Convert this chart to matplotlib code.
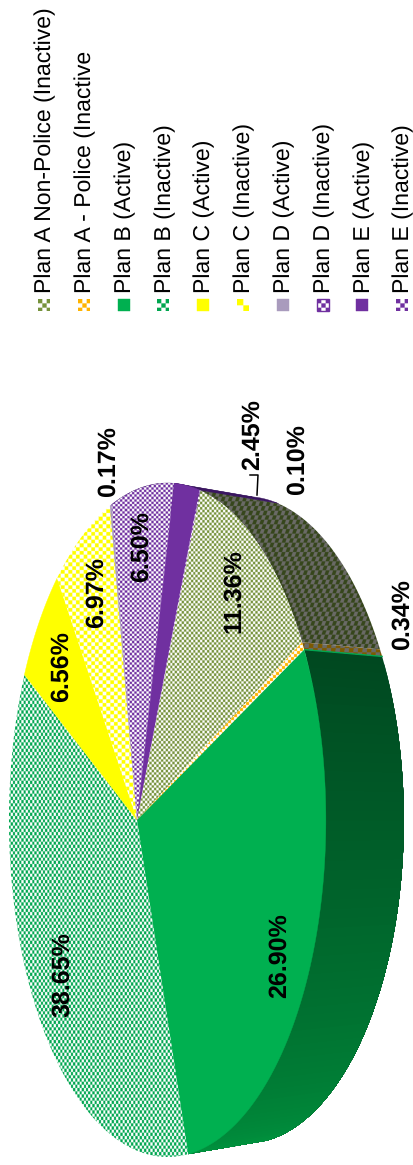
import numpy as np
import matplotlib
matplotlib.use('Agg')
import matplotlib.pyplot as plt
from matplotlib.patches import Polygon, Rectangle

plt.rcParams['font.family'] = ['Liberation Sans', 'DejaVu Sans']
plt.rcParams['text.hinting'] = 'no_hinting'
plt.rcParams['text.hinting_factor'] = 1

# ---- data (in drawing order, clockwise from the front seam) ----
categories = ['Plan B (Active)', 'Plan B (Inactive)', 'Plan C (Active)', 'Plan C (Inactive)',
              'Plan D (Active)', 'Plan D (Inactive)', 'Plan E (Active)', 'Plan E (Inactive)',
              'Plan A Non-Police (Inactive)', 'Plan A - Police (Inactive']
values = [26.90, 38.65, 6.56, 6.97, 0.17, 6.50, 2.45, 0.10, 11.36, 0.34]
value_labels = ['26.90%', '38.65%', '6.56%', '6.97%', '0.17%', '6.50%', '2.45%', '0.10%', '11.36%', '0.34%']
label_pos = [(279, 956), (63, 975), (61, 667), (96, 593), (108, 462),
             (141.5, 547), (252, 435), (297, 460), (234, 591), (402.5, 615)]
legend_order = ['Plan A Non-Police (Inactive)', 'Plan A - Police (Inactive', 'Plan B (Active)',
                'Plan B (Inactive)', 'Plan C (Active)', 'Plan C (Inactive)', 'Plan D (Active)',
                'Plan D (Inactive)', 'Plan E (Active)', 'Plan E (Inactive)']

# face style: colour, second colour (None = solid), cell w, cell h
styles = {
    'Plan A Non-Police (Inactive)': ('#76923C', '#FFFFFF', 2.3, 2.6),
    'Plan A - Police (Inactive':    ('#FFB400', '#FFFFFF', 3.0, 3.0),
    'Plan B (Active)':              ('#00B050', None, 0, 0),
    'Plan B (Inactive)':            ('#00A650', '#FFFFFF', 2.15, 3.2),
    'Plan C (Active)':              ('#FFFF00', None, 0, 0),
    'Plan C (Inactive)':            ('#FFFF00', '#FFFFFF', 3.8, 3.8),
    'Plan D (Active)':              ('#A99BBD', None, 0, 0),
    'Plan D (Inactive)':            ('#7030A0', '#FFFFFF', 2.4, 2.4),
    'Plan E (Active)':              ('#7030A0', None, 0, 0),
    'Plan E (Inactive)':            ('#7030A0', '#FFFFFF', 2.4, 2.4),
}
wall_styles = {
    'Plan A Non-Police (Inactive)': ('#36461C', '#6A6A66', 3.6, 4.6, 0.35),
    'Plan A - Police (Inactive':    ('#7D5A00', '#6A6A66', 4.5, 4.5, 0.1),
    'Plan E (Active)':              ('#3A1660', None, 0, 0, 0),
    'Plan E (Inactive)':            ('#3A1660', None, 0, 0, 0),
    'Plan D (Inactive)':            ('#3A1660', None, 0, 0, 0),
}
legend_cells = {'Plan A Non-Police (Inactive)': 4.3, 'Plan A - Police (Inactive': 4.3,
                'Plan B (Inactive)': 4.3, 'Plan C (Inactive)': 6.2, 'Plan D (Inactive)': 4.3,
                'Plan E (Inactive)': 4.3}

# ---- geometry: circle projected in perspective ----
APEX_X, APEX_Y = 137.0, 820.0
A, B, K = 152.6, 330.7, -0.192
START_DEG = -25.2
WALL_SHIFT, WALL_SCALE = 78.0, 0.96


def project(deg):
    t = np.radians(deg)
    x, y = np.cos(t), np.sin(t)
    w = 1 + K * x
    return APEX_X + A * x / w, APEX_Y + B * y / w


def lower(px, py):
    return px + WALL_SHIFT, APEX_Y + (py - APEX_Y) * WALL_SCALE


fig = plt.figure(figsize=(4.14, 11.65), dpi=100)
ax = fig.add_axes([0, 0, 1, 1])
ax.axis('off')
SS = 3


def to_rgb255(c):
    return np.array(matplotlib.colors.to_rgb(c))


def fill_poly(xy, c1, c2=None, cw=0, ch=0, shear=0.0, z=1, relative=False):
    xy = np.asarray(xy)
    if c2 is None:
        patch = Polygon(xy, closed=True, facecolor=c1, edgecolor=c1, lw=0.3, zorder=z)
        ax.add_patch(patch)
        return patch
    patch = Polygon(xy, closed=True, facecolor='none', edgecolor='none', zorder=z)
    ax.add_patch(patch)
    x0, y0 = np.floor(xy.min(axis=0))
    x1, y1 = np.ceil(xy.max(axis=0))
    if relative:
        x0, y0 = xy.min(axis=0)
        x1, y1 = xy.max(axis=0)
    nx, ny = max(int((x1 - x0) * SS), 1), max(int((y1 - y0) * SS), 1)
    xs = x0 + (np.arange(nx) + .5) / SS
    ys = y0 + (np.arange(ny) + .5) / SS
    gx, gy = np.meshgrid(xs, ys)
    if relative:
        gx, gy = gx - x0, gy - y0
    idx = (np.floor((gx + shear * gy) / cw) + np.floor(gy / ch)).astype(int) % 2
    img = np.where(idx[..., None] == 0, to_rgb255(c1), to_rgb255(c2))
    im = ax.imshow(img, extent=(x0, x1, y1, y0), origin='upper', aspect='auto',
                   interpolation='antialiased', zorder=z)
    im.set_clip_path(patch)
    return patch


# ---- angular boundaries from the values ----
bounds = START_DEG + np.concatenate([[0], np.cumsum(values)]) * 3.6

# ---- side wall ----
for i, cat in enumerate(categories):
    a0, a1 = bounds[i], bounds[i + 1]
    a0w, a1w = (a0 - 360, a1 - 360) if a0 > 180 else (a0, a1)
    if a1w < -115:
        continue
    if cat == 'Plan B (Active)':
        stops = np.linspace(a0w, a1w, 70)
        # strips overlap the next one, so no seam shows between them
        for s0 in stops[:-1]:
            f = (s0 - a0w) / (a1w - a0w)
            shade = (0, (72 + 75 * f) / 255, (32 + 30 * f) / 255)
            ang = np.linspace(s0, a1w, 60)
            px, py = project(ang)
            qx, qy = lower(px, py)
            patch = Polygon(np.r_[np.c_[px, py], np.c_[qx, qy][::-1]], closed=True,
                            facecolor=shade, edgecolor='none', zorder=1)
            ax.add_patch(patch)
        continue
    if cat not in wall_styles:
        continue
    c1, c2, cw, ch, sh = wall_styles[cat]
    ang = np.linspace(a0w, a1w, 40)
    px, py = project(ang)
    qx, qy = lower(px, py)
    fill_poly(np.r_[np.c_[px, py], np.c_[qx, qy][::-1]], c1, c2, cw, ch, sh, z=1)

# ---- thin light-green seam along the wall's front ----
sx, sy = project(np.array([START_DEG]))
qx, qy = lower(sx, sy)
ax.plot([sx[0], qx[0]], [sy[0], qy[0]], color='#00A650', lw=1.0, zorder=2)

# ---- top faces ----
for i, cat in enumerate(categories):
    a0, a1 = bounds[i], bounds[i + 1]
    ang = np.linspace(a0, a1, max(int((a1 - a0) * 2), 3))
    px, py = project(ang)
    poly = np.r_[[[APEX_X, APEX_Y]], np.c_[px, py]]
    c1, c2, cw, ch = styles[cat]
    fill_poly(poly, c1, c2, cw, ch, z=3)

# ---- value labels ----
for txt, (lx, ly) in zip(value_labels, label_pos):
    ax.text(lx, ly, txt, rotation=90, ha='center', va='center', fontsize=18,
            fontweight='bold', color='black', zorder=6)

# ---- leader line of the 2.45% label ----
ax.plot([250, 258, 257], [475, 475, 495], color='black', lw=1.1, zorder=6)

# ---- legend ----
for j, name in enumerate(legend_order):
    cx = 44 + j * 39.8
    ax.text(cx + 1.5, 293, name, rotation=90, ha='center', va='bottom', fontsize=16.6,
            color='black', zorder=6)
    rect = np.array([[cx - 6, 299], [cx + 6, 299], [cx + 6, 311], [cx - 6, 311]])
    c1, c2, _, _ = styles[name]
    if c2 is None:
        fill_poly(rect, c1, z=5)
    else:
        cell = legend_cells[name]
        fill_poly(rect, c1, c2, cell, cell, z=5, relative=True)
    if name == 'Plan D (Inactive)':
        ax.add_patch(Rectangle((cx - 6, 299), 12, 12, fill=False, edgecolor=c1, lw=1.0, zorder=5))

ax.set_xlim(0, 414)
ax.set_ylim(1165, 0)
fig.savefig('out.png', dpi=100, facecolor='white')
